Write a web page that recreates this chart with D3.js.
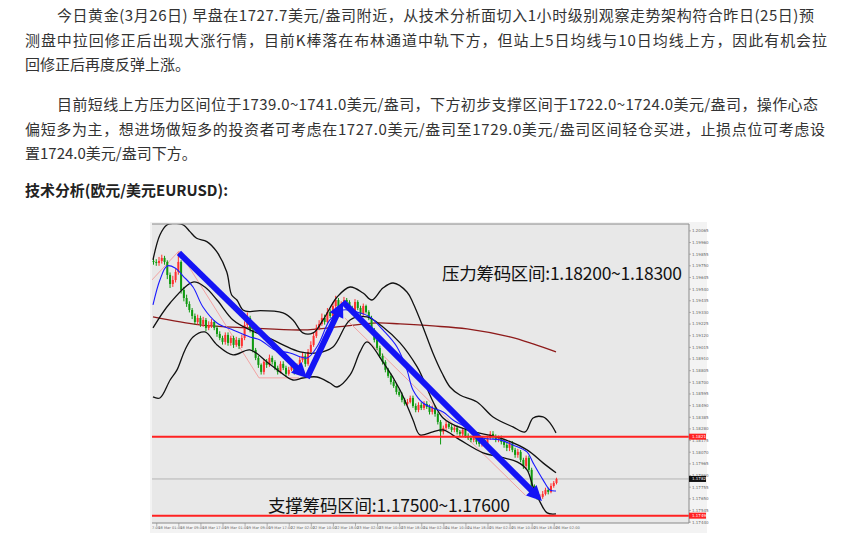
<!DOCTYPE html>
<html><head><meta charset="utf-8">
<script src="https://cdn.jsdelivr.net/npm/d3@7/dist/d3.min.js"></script>
<style>
html,body{margin:0;padding:0;background:#fff;}
svg{display:block;}
</style></head><body>
<script>
// ---------- article text ----------
const para1 = [
  "今日黄金(3月26日) 早盘在1727.7美元/盎司附近，从技术分析面切入1小时级别观察走势架构符合昨日(25日)预",
  "测盘中拉回修正后出现大涨行情，目前K棒落在布林通道中轨下方，但站上5日均线与10日均线上方，因此有机会拉",
  "回修正后再度反弹上涨。"
];
const para2 = [
  "目前短线上方压力区间位于1739.0~1741.0美元/盎司，下方初步支撑区间于1722.0~1724.0美元/盎司，操作心态",
  "偏短多为主，想进场做短多的投资者可考虑在1727.0美元/盎司至1729.0美元/盎司区间轻仓买进，止损点位可考虑设",
  "置1724.0美元/盎司下方。"
];
const sectionTitle = "技术分析(欧元/美元EURUSD):";

// ---------- chart data (EURUSD H1) ----------
const opens = [1.19794,1.19785,1.19776,1.19794,1.19821,1.19785,1.19668,1.19586,1.19622,1.19695,
1.19785,1.19532,1.19460,1.19406,1.19352,1.19298,1.19244,1.19280,1.19226,1.19262,
1.19190,1.19217,1.19244,1.19190,1.19136,1.19100,1.19064,1.19127,1.19055,1.19100,
1.19037,1.19082,1.19028,1.19100,1.19217,1.19280,1.19172,1.18992,1.18920,1.18857,
1.18794,1.18884,1.18857,1.18920,1.18884,1.18830,1.18794,1.18866,1.18830,1.18776,
1.18812,1.18857,1.18794,1.18848,1.18902,1.18938,1.18866,1.18974,1.19037,1.19118,
1.19190,1.19226,1.19280,1.19244,1.19334,1.19298,1.19388,1.19442,1.19352,1.19406,
1.19442,1.19424,1.19370,1.19334,1.19424,1.19370,1.19316,1.19388,1.19334,1.19280,
1.19172,1.19082,1.19010,1.18938,1.18884,1.18812,1.18758,1.18703,1.18667,1.18613,
1.18586,1.18541,1.18505,1.18523,1.18559,1.18487,1.18451,1.18496,1.18469,1.18505,
1.18478,1.18433,1.18469,1.18415,1.18343,1.18253,1.18289,1.18325,1.18298,1.18271,
1.18289,1.18253,1.18235,1.18271,1.18217,1.18199,1.18181,1.18208,1.18163,1.18145,
1.18181,1.18145,1.18199,1.18235,1.18208,1.18181,1.18199,1.18163,1.18136,1.18109,
1.18145,1.18091,1.18046,1.18073,1.18001,1.17947,1.18019,1.17911,1.17766,1.17685,
1.17658,1.17667,1.17694,1.17730,1.17712,1.17766,1.17793];
const closes = [1.19785,1.19776,1.19794,1.19821,1.19785,1.19668,1.19586,1.19622,1.19695,1.19785,
1.19532,1.19460,1.19406,1.19352,1.19298,1.19244,1.19280,1.19226,1.19262,1.19190,
1.19217,1.19244,1.19190,1.19136,1.19100,1.19064,1.19127,1.19055,1.19100,1.19037,
1.19082,1.19028,1.19100,1.19217,1.19280,1.19172,1.18992,1.18920,1.18857,1.18794,
1.18884,1.18857,1.18920,1.18884,1.18830,1.18794,1.18866,1.18830,1.18776,1.18812,
1.18857,1.18794,1.18848,1.18902,1.18938,1.18866,1.18974,1.19037,1.19118,1.19190,
1.19226,1.19280,1.19244,1.19334,1.19298,1.19388,1.19442,1.19352,1.19406,1.19442,
1.19424,1.19370,1.19334,1.19424,1.19370,1.19316,1.19388,1.19334,1.19280,1.19172,
1.19082,1.19010,1.18938,1.18884,1.18812,1.18758,1.18703,1.18667,1.18613,1.18586,
1.18541,1.18505,1.18523,1.18559,1.18487,1.18451,1.18496,1.18469,1.18505,1.18478,
1.18433,1.18469,1.18415,1.18343,1.18253,1.18289,1.18325,1.18298,1.18271,1.18289,
1.18253,1.18235,1.18271,1.18217,1.18199,1.18181,1.18208,1.18163,1.18145,1.18181,
1.18145,1.18199,1.18235,1.18208,1.18181,1.18199,1.18163,1.18136,1.18109,1.18145,
1.18091,1.18046,1.18073,1.18001,1.17947,1.18019,1.17911,1.17766,1.17685,1.17658,
1.17667,1.17694,1.17730,1.17712,1.17766,1.17793,1.17829];
const highs = [1.1982,1.1981,1.1983,1.1985,1.1984,1.1980,1.1969,1.1966,1.1972,1.1987,
1.1980,1.1956,1.1949,1.1943,1.1937,1.1932,1.1931,1.1930,1.1929,1.1928,
1.1925,1.1927,1.1926,1.1921,1.1916,1.1912,1.1915,1.1915,1.1912,1.1912,
1.1911,1.1910,1.1913,1.1925,1.1933,1.1930,1.1919,1.1901,1.1894,1.1887,
1.1891,1.1891,1.1895,1.1894,1.1890,1.1885,1.1889,1.1889,1.1885,1.1884,
1.1888,1.1887,1.1887,1.1893,1.1897,1.1896,1.1900,1.1907,1.1915,1.1922,
1.1926,1.1932,1.1931,1.1937,1.1936,1.1942,1.1948,1.1946,1.1943,1.1947,
1.1946,1.1944,1.1939,1.1945,1.1944,1.1939,1.1941,1.1940,1.1935,1.1930,
1.1919,1.1910,1.1903,1.1896,1.1890,1.1883,1.1878,1.1872,1.1869,1.1864,
1.1861,1.1856,1.1855,1.1858,1.1858,1.1851,1.1852,1.1852,1.1853,1.1853,
1.1850,1.1849,1.1849,1.1843,1.1836,1.1831,1.1835,1.1834,1.1832,1.1831,
1.1831,1.1827,1.1829,1.1829,1.1824,1.1822,1.1823,1.1823,1.1818,1.1821,
1.1820,1.1822,1.1826,1.1826,1.1823,1.1822,1.1822,1.1819,1.1816,1.1817,
1.1817,1.1811,1.1810,1.1809,1.1802,1.1804,1.1804,1.1793,1.1778,1.1770,
1.1769,1.1772,1.1775,1.1775,1.1779,1.1781,1.1784];
const lows = [1.1976,1.1975,1.1975,1.1977,1.1976,1.1963,1.1955,1.1956,1.1960,1.1967,
1.1950,1.1943,1.1938,1.1933,1.1927,1.1922,1.1922,1.1920,1.1920,1.1916,
1.1917,1.1919,1.1917,1.1911,1.1908,1.1904,1.1904,1.1903,1.1903,1.1901,
1.1902,1.1900,1.1901,1.1908,1.1919,1.1915,1.1897,1.1890,1.1883,1.1877,
1.1877,1.1883,1.1884,1.1886,1.1881,1.1877,1.1878,1.1881,1.1875,1.1876,
1.1880,1.1877,1.1878,1.1883,1.1888,1.1884,1.1885,1.1896,1.1902,1.1910,
1.1917,1.1921,1.1922,1.1923,1.1928,1.1928,1.1937,1.1933,1.1934,1.1939,
1.1940,1.1935,1.1931,1.1932,1.1935,1.1930,1.1930,1.1932,1.1926,1.1915,
1.1906,1.1899,1.1892,1.1886,1.1879,1.1874,1.1868,1.1865,1.1859,1.1857,
1.1852,1.1849,1.1849,1.1851,1.1847,1.1843,1.1843,1.1845,1.1845,1.1846,
1.1841,1.1841,1.1839,1.1832,1.1814,1.1823,1.1827,1.1828,1.1825,1.1825,
1.1823,1.1821,1.1821,1.1820,1.1818,1.1816,1.1816,1.1814,1.1812,1.1812,
1.1812,1.1812,1.1818,1.1819,1.1816,1.1816,1.1814,1.1811,1.1808,1.1808,
1.1807,1.1802,1.1802,1.1798,1.1792,1.1792,1.1789,1.1775,1.1766,1.1764,
1.1764,1.1765,1.1768,1.1769,1.1770,1.1775,1.1778];

// indicator lines: [bar index, price]
const bbUpper = [[0,1.19803],[2.5,1.20028],[5,1.20118],[7.2,1.20133],[11,1.20118],[13.4,1.20058],[15.8,1.19998],[19.5,1.19968],[23.1,1.19877],[26.7,1.19697],[28.5,1.19487],[30.4,1.19442],[32.6,1.19352],[35.1,1.19337],[38.8,1.19346],[47.1,1.19325],[50.7,1.19262],[54.3,1.19145],[58,1.19145],[61.6,1.19262],[66.7,1.19469],[71.4,1.19559],[76.1,1.19505],[79.3,1.19442],[83.3,1.19550],[87,1.19595],[92,1.19514],[94.2,1.19415],[97.8,1.19199],[101.4,1.18965],[104.7,1.18784],[107.6,1.18658],[111.2,1.18586],[117.4,1.18523],[123.2,1.18388],[130.4,1.18298],[134.8,1.18253],[137.7,1.18379],[141.3,1.18388],[143.8,1.18334],[146,1.18244]];
const bbMiddle = [[0,1.19190],[6.2,1.19415],[14.5,1.19604],[18.8,1.19559],[23.2,1.19442],[29,1.19262],[35.1,1.19172],[41.3,1.19109],[47.1,1.19037],[53.3,1.18974],[59.4,1.18965],[65.2,1.19019],[71.4,1.19262],[77.5,1.19289],[83.3,1.19199],[89.5,1.19055],[95.7,1.18839],[105.1,1.18379],[113.8,1.18271],[125.7,1.18199],[135.5,1.18091],[141.3,1.17974],[146,1.17884]];
const bbLower = [[0,1.18568],[2.5,1.18559],[6.2,1.18721],[8.7,1.18812],[11.6,1.18992],[14.5,1.19109],[18.8,1.19154],[23.2,1.19037],[29,1.18947],[35.1,1.18992],[41.3,1.18884],[46,1.18794],[50.7,1.18721],[54.3,1.18739],[59.4,1.18748],[64.1,1.18694],[66.7,1.18658],[71.4,1.18766],[75,1.18974],[77.5,1.19064],[83.3,1.18884],[89.5,1.18631],[94.2,1.18361],[96.7,1.18226],[101.4,1.18253],[105.1,1.18271],[111.2,1.18181],[119.6,1.18064],[125.7,1.18028],[131.9,1.17983],[135.5,1.17911],[137.7,1.17757],[140.2,1.17622],[142.8,1.17523],[146,1.17514]];
const maFast = [[0,1.19397],[2.5,1.19622],[5.1,1.19749],[8,1.19731],[10.9,1.19658],[14.5,1.19559],[18.1,1.19379],[23.2,1.19235],[29,1.19172],[35.1,1.19109],[38.8,1.19082],[44.2,1.18992],[49.6,1.18965],[55.8,1.18920],[59.8,1.19037],[64.1,1.19262],[68.8,1.19352],[73.9,1.19334],[78.6,1.19289],[83.3,1.19172],[88.4,1.19019],[92,1.18812],[94.2,1.18631],[97.8,1.18514],[101.4,1.18469],[105.1,1.18433],[108.7,1.18361],[113.8,1.18289],[119.6,1.18199],[125.7,1.18181],[130.4,1.18136],[135.5,1.18073],[137.7,1.17974],[141.3,1.17821],[143.8,1.17730],[146,1.17721]];
const maSlow = [[0,1.19289],[17,1.19217],[35.1,1.19190],[54.3,1.19172],[66.7,1.19199],[81.2,1.19235],[89.5,1.19226],[101.4,1.19208],[113.8,1.19181],[129.3,1.19109],[137.7,1.19046],[146,1.18974]];
const zigzag = [[-0.4,1.19622],[9.4,1.19884],[38.4,1.18740],[52.9,1.18740]];
const channelLine = [[69.5,1.19280],[135,1.17680]];
const trendArrows = [[9.4,1.19866],[55.8,1.18740],[68.8,1.19424],[140.9,1.17631]];

const resistanceLevel = 1.18210, supportLevel = 1.17498, lastPrice = 1.17829;
const resistanceText = "压力筹码区间:1.18200~1.18300";
const supportText = "支撑筹码区间:1.17500~1.17600";
const priceTicks = ["1.17440","1.17545","1.17650","1.17755","1.17860","1.17965","1.18070","1.18175","1.18280","1.18385","1.18490","1.18595","1.18700","1.18805","1.18910","1.19015","1.19120","1.19225","1.19330","1.19435","1.19540","1.19645","1.19750","1.19855","1.19960","1.20065"];
const timeLabels = ["17 Mar 17:00","18 Mar 01:00","18 Mar 09:00","18 Mar 17:00","19 Mar 01:00","19 Mar 09:00","19 Mar 17:00","22 Mar 02:00","22 Mar 10:00","22 Mar 18:00","23 Mar 02:00","23 Mar 10:00","23 Mar 18:00","24 Mar 02:00","24 Mar 10:00","24 Mar 18:00","25 Mar 02:00","25 Mar 10:00","25 Mar 18:00","26 Mar 02:00"];
const timeLabelBars = [-7,1,9,17,25,33,41,49,57,65,73,81,89,97,105,113,121,129,137,145];

// ---------- drawing ----------
const W = 864, H = 540;
const svg = d3.select("body").append("svg").attr("width", W).attr("height", H);
const cjk = "'Noto Sans CJK SC','Noto Sans',sans-serif";

// article text (line widths as measured in the reference)
const para1Widths = [757, 802, null], para2Widths = [761, 800, null];
const txt = svg.append("g").attr("font-family", cjk).attr("font-size", 15).attr("fill", "#333");
function addLine(s, k, top, widths) {
  const t = txt.append("text").attr("x", k === 0 ? 57 : 25).attr("y", top + k * 24.5).text(s);
  if (widths[k]) t.attr("textLength", widths[k]).attr("lengthAdjust", "spacing");
}
para1.forEach((s, k) => addLine(s, k, 21, para1Widths));
para2.forEach((s, k) => addLine(s, k, 110, para2Widths));
txt.append("text").attr("x", 25).attr("y", 196).attr("font-weight", "bold").attr("font-size", 15)
  .attr("fill", "#222").attr("textLength", 203).attr("lengthAdjust", "spacingAndGlyphs").text(sectionTitle);

// chart frame
const PL = 152, PR = 689, PT = 224, PB = 523;
const chart = svg.append("g");
chart.append("rect").attr("x", 150).attr("y", 222).attr("width", 557).attr("height", 311).attr("fill", "#f3f3f3");
chart.append("rect").attr("x", PL).attr("y", PT).attr("width", PR - PL).attr("height", PB - PT).attr("fill", "#e8e8e8");

const x = d3.scaleLinear().domain([0, closes.length - 1]).range([153, 556]);
const y = d3.scaleLinear().domain([1.17432, 1.20127]).range([PB, PT]);

svg.append("defs").append("clipPath").attr("id", "plot").append("rect")
  .attr("x", PL).attr("y", PT).attr("width", PR - PL).attr("height", PB - PT);
const plot = chart.append("g").attr("clip-path", "url(#plot)");

plot.append("line").attr("x1", PL).attr("x2", PR).attr("y1", y(lastPrice)).attr("y2", y(lastPrice)).attr("stroke", "#b4b4b4").attr("stroke-width", 1);

const lineGen = d3.line().x(d => x(d[0])).y(d => y(d[1]));
const curveGen = d3.line().x(d => x(d[0])).y(d => y(d[1])).curve(d3.curveCatmullRom.alpha(0.5));

plot.append("path").attr("d", curveGen(maSlow)).attr("fill", "none").attr("stroke", "#8e1b1b").attr("stroke-width", 1.3);

plot.append("path").attr("d", lineGen(zigzag)).attr("fill", "none").attr("stroke", "#f39a9a").attr("stroke-width", 0.9);
plot.append("path").attr("d", lineGen(channelLine)).attr("fill", "none").attr("stroke", "#f39a9a").attr("stroke-width", 0.9);

// candles
const idx = d3.range(closes.length);
const candles = plot.append("g");
candles.selectAll("line.w").data(idx).join("line")
  .attr("x1", i => x(i) + 0.5).attr("x2", i => x(i) + 0.5)
  .attr("y1", i => y(highs[i])).attr("y2", i => y(lows[i]))
  .attr("stroke", i => closes[i] >= opens[i] ? "#ff3030" : "#109a10").attr("stroke-width", 1);
candles.selectAll("rect").data(idx).join("rect")
  .attr("x", i => x(i) - 0.5).attr("width", 2)
  .attr("y", i => y(Math.max(opens[i], closes[i])))
  .attr("height", i => Math.max(1, Math.abs(y(opens[i]) - y(closes[i]))))
  .attr("fill", i => closes[i] >= opens[i] ? "#ff3030" : "#109a10");

[bbUpper, bbMiddle, bbLower].forEach(b =>
  plot.append("path").attr("d", curveGen(b)).attr("fill", "none").attr("stroke", "#111").attr("stroke-width", 1.3));
plot.append("path").attr("d", curveGen(maFast)).attr("fill", "none").attr("stroke", "#1a1aff").attr("stroke-width", 1.1);

[resistanceLevel, supportLevel].forEach(v =>
  chart.append("line").attr("x1", PL).attr("x2", 705).attr("y1", y(v)).attr("y2", y(v)).attr("stroke", "#f22").attr("stroke-width", 2));

// blue trend arrows
const arrows = plot.append("g").attr("fill", "#1414f5").attr("stroke", "#1414f5");
for (let k = 0; k < trendArrows.length - 1; k++) {
  const x1 = x(trendArrows[k][0]), y1 = y(trendArrows[k][1]);
  const x2 = x(trendArrows[k + 1][0]), y2 = y(trendArrows[k + 1][1]);
  const len = Math.hypot(x2 - x1, y2 - y1), ux = (x2 - x1) / len, uy = (y2 - y1) / len;
  const hl = 15, hw = 7.5;
  const bx = x2 - ux * hl, by = y2 - uy * hl;
  arrows.append("line").attr("x1", x1).attr("y1", y1).attr("x2", bx + ux * 2).attr("y2", by + uy * 2).attr("stroke-width", 6);
  arrows.append("path").attr("stroke", "none")
    .attr("d", `M${x2},${y2}L${bx - uy * hw},${by + ux * hw}L${bx + uy * hw},${by - ux * hw}Z`);
}

// annotations
chart.append("text").attr("x", 442).attr("y", 280).attr("font-family", cjk).attr("font-size", 17.5).attr("fill", "#111")
  .attr("textLength", 240).attr("lengthAdjust", "spacing").text(resistanceText);
chart.append("text").attr("x", 268).attr("y", 512).attr("font-family", cjk).attr("font-size", 17.5).attr("fill", "#111")
  .attr("textLength", 242).attr("lengthAdjust", "spacing").text(supportText);

// plot border
chart.append("line").attr("x1", PL).attr("x2", PR).attr("y1", PT).attr("y2", PT).attr("stroke", "#8a8a8a");
chart.append("line").attr("x1", PR).attr("x2", PR).attr("y1", PT).attr("y2", PB).attr("stroke", "#8a8a8a");
chart.append("line").attr("x1", PL).attr("x2", PR).attr("y1", PB).attr("y2", PB).attr("stroke", "#8a8a8a");

// price axis
const pa = chart.append("g").attr("font-family", "'DejaVu Sans',sans-serif").attr("font-size", 4).attr("fill", "#666");
priceTicks.forEach(t => {
  const yy = y(+t);
  pa.append("line").attr("x1", PR).attr("x2", PR + 2).attr("y1", yy).attr("y2", yy).attr("stroke", "#888").attr("stroke-width", 0.6);
  pa.append("text").attr("x", PR + 3).attr("y", yy + 1.4).text(t);
});
[[resistanceLevel, "#f22", "1.18210"], [lastPrice, "#111", "1.17829"], [supportLevel, "#f22", "1.17498"]].forEach(([v, c, s]) => {
  pa.append("rect").attr("x", PR).attr("y", y(v) - 3).attr("width", 17).attr("height", 6).attr("fill", c);
  pa.append("text").attr("x", PR + 3).attr("y", y(v) + 1.4).attr("fill", "#fff").text(s);
});

// time axis
const ta = chart.append("g").attr("font-family", "'DejaVu Sans',sans-serif").attr("font-size", 3.6).attr("fill", "#666");
svg.select("defs").append("clipPath").attr("id", "taxis").append("rect").attr("x", PL).attr("y", PB).attr("width", PR - PL).attr("height", 12);
const tag = ta.append("g").attr("clip-path", "url(#taxis)");
timeLabels.forEach((s, k) => {
  const xx = x(timeLabelBars[k]);
  tag.append("line").attr("x1", xx + 1).attr("x2", xx + 1).attr("y1", PB).attr("y2", PB + 3).attr("stroke", "#888").attr("stroke-width", 0.6);
  tag.append("text").attr("x", xx + 2.5).attr("y", PB + 5.5).text(s);
});
</script>
</body></html>
